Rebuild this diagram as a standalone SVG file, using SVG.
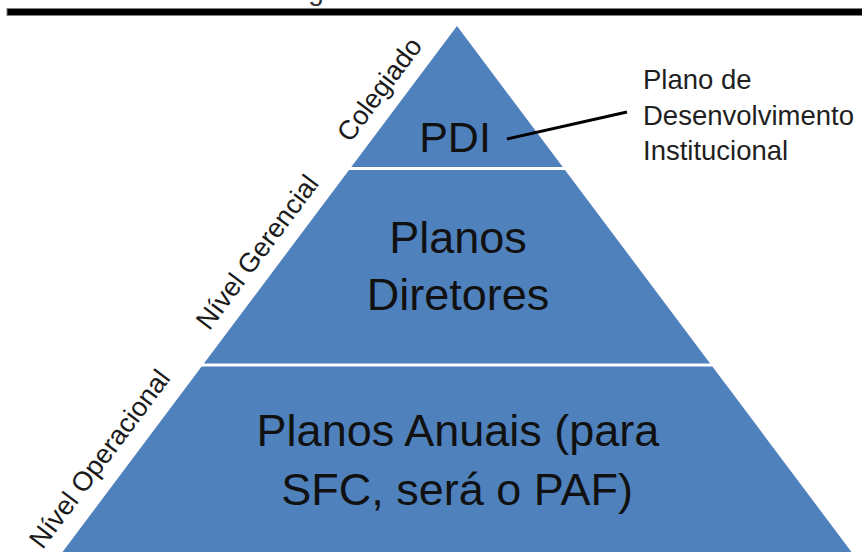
<svg xmlns="http://www.w3.org/2000/svg" width="862" height="552" viewBox="0 0 862 552">
  <style>
    .tier { fill: #4F81BD; }
    .main { font-family: "Liberation Sans", Arial, sans-serif; fill: #111; text-anchor: middle; }
    .side { font-family: "Liberation Sans", Arial, sans-serif; font-size: 27px; fill: #1a1a1a; }
    .callout { font-family: "Liberation Sans", Arial, sans-serif; font-size: 27.5px; fill: #1f1f1f; }
  </style>
  <rect width="862" height="552" fill="#ffffff"/>
  <text x="285" y="0" font-family="Liberation Sans, Arial, sans-serif" font-size="28" fill="#333">Figura 2: Modelo 1</text>
  <rect x="7" y="8.5" width="856" height="7" fill="#000" stroke="#808080" stroke-width="1"/>

  <g id="tier-pdi">
    <polygon class="tier" points="457,26 562.75,167 351.25,167"/>
    <text class="main" x="455" y="152" font-size="43">PDI</text>
  </g>
  <g id="tier-diretores">
    <polygon class="tier" points="349,170 565,170 710.1,363.5 203.9,363.5"/>
    <text class="main" x="458" y="253" font-size="45">Planos</text>
    <text class="main" x="458" y="310" font-size="45">Diretores</text>
  </g>
  <g id="tier-anuais">
    <polygon class="tier" points="201.6,366.5 712.4,366.5 851.5,552 62.5,552"/>
    <text class="main" x="458" y="446" font-size="45">Planos Anuais (para</text>
    <text class="main" x="457" y="505" font-size="45">SFC, será o PAF)</text>
  </g>

  <g id="side-labels" transform="translate(457,26) rotate(-53.13)">
    <text class="side" x="-158" y="-15">Colegiado</text>
    <text class="side" x="-393" y="-15">Nível Gerencial</text>
    <text class="side" x="-668" y="-17">Nível Operacional</text>
  </g>

  <g id="callout">
    <text class="callout" x="643" y="89">Plano de</text>
    <text class="callout" x="643" y="125">Desenvolvimento</text>
    <text class="callout" x="643" y="160">Institucional</text>
  </g>

  <g id="connectors">
    <line x1="507" y1="139" x2="627" y2="112" stroke="#000" stroke-width="3"/>
  </g>
</svg>
